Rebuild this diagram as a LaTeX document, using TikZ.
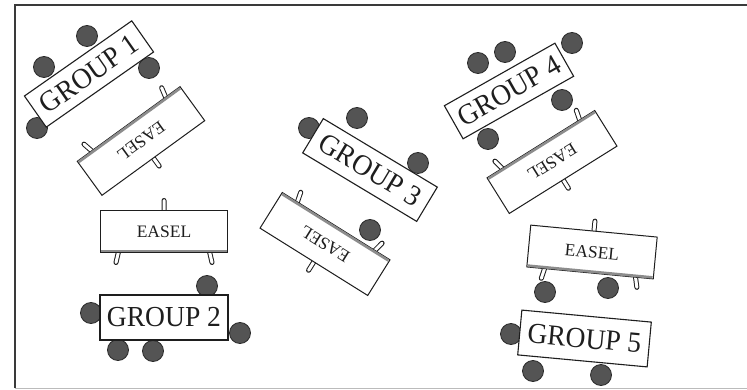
\documentclass[tikz,border=0pt]{standalone}
\usepackage{graphicx}
\usepackage{fontspec}
\setmainfont{Liberation Serif}
\definecolor{ink}{HTML}{1E1E1E}
\definecolor{chairfill}{HTML}{545454}
\definecolor{chairline}{HTML}{2A2A2A}
\definecolor{edgegray}{HTML}{8C8C8C}
\definecolor{framedark}{HTML}{3A3A3A}
\definecolor{framelight}{HTML}{BBBBBB}
\newcommand\grpfont{\fontsize{29}{29}\selectfont}
\newcommand\easelfont{\fontsize{17.5}{17.5}\selectfont}
\newcommand\grp[1]{\scalebox{0.95}[1]{#1}}
% one easel: name, centre, rotation (gray front edge is the local bottom)
\newcommand\easelat[3]{%
  \begin{scope}[shift={#2}, rotate=#3]
    \draw[legout] (0,-18) -- (0,-31) (-45,18) -- (-48,31) (45,18) -- (48,31);
    \draw[legin]  (0,-18) -- (0,-31) (-45,18) -- (-48,31) (45,18) -- (48,31);
    \node[easelboard] (#1) at (0,0) {EASEL};
    \draw[ledge] (-62.6,19.6) -- (62.6,19.6);
  \end{scope}}
\begin{document}
\begin{tikzpicture}[x=1pt,y=-1pt,
  chair/.style={circle, fill=chairfill, draw=chairline, line width=0.8pt,
    minimum size=21pt, inner sep=0pt},
  tbl/.style={draw=ink, fill=white, line width=1.1pt, inner sep=0pt,
    font=\grpfont, text=ink},
  easelboard/.style={draw=ink, fill=white, line width=1pt, minimum width=127pt,
    minimum height=42pt, inner sep=0pt, font=\easelfont, text=ink, transform shape},
  legout/.style={line width=5pt, line cap=round, draw=ink},
  legin/.style={line width=3pt, line cap=round, draw=white},
  ledge/.style={draw=edgegray, line width=2.6pt},
]
\useasboundingbox[fill=white] (0,0) rectangle (747,390);

% room outline
\draw[framedark, line width=1.6pt] (15,388) -- (15,5) -- (747,5);
\draw[framelight, line width=1pt] (15,388) -- (747,388);

% easels
\easelat{e1}{(141,141)}{216}
\easelat{e2}{(164,231.5)}{0}
\easelat{e3}{(325,244)}{148}
\easelat{e4}{(552,162)}{212}
\easelat{e5}{(592,252)}{-5.4}

% chairs
\node[chair] (c1a) at (44,67) {};
\node[chair] (c1b) at (87,36) {};
\node[chair] (c1c) at (149,68) {};
\node[chair] (c1d) at (37,128) {};

\node[chair] (c2a) at (207,286) {};
\node[chair] (c2b) at (91,313) {};
\node[chair] (c2c) at (240,333) {};
\node[chair] (c2d) at (118,350) {};
\node[chair] (c2e) at (153,351) {};

\node[chair] (c3a) at (309,128) {};
\node[chair] (c3b) at (357,118) {};
\node[chair] (c3c) at (418,163) {};
\node[chair] (c3d) at (370,230) {};

\node[chair] (c4a) at (478,63) {};
\node[chair] (c4b) at (505,52) {};
\node[chair] (c4c) at (572,43) {};
\node[chair] (c4d) at (562,100) {};
\node[chair] (c4e) at (488,139) {};

\node[chair] (c5a) at (545,292) {};
\node[chair] (c5b) at (608,288) {};
\node[chair] (c5c) at (511,334) {};
\node[chair] (c5d) at (533,371) {};
\node[chair] (c5e) at (601,375) {};

% group tables
\node[tbl, minimum width=131pt, minimum height=38pt, rotate=35] (g1) at (89,74) {\grp{GROUP 1}};
\node[tbl, minimum width=128pt, minimum height=45pt] (g2) at (164,317.5) {\grp{GROUP 2}};
\node[tbl, minimum width=133pt, minimum height=40pt, rotate=-31] (g3) at (370,170) {\grp{GROUP 3}};
\node[tbl, minimum width=127pt, minimum height=38pt, rotate=29.5] (g4) at (509,91) {\grp{GROUP 4}};
\node[tbl, minimum width=130pt, minimum height=45pt, rotate=-5.3] (g5) at (584.5,338.5) {\grp{GROUP 5}};
\end{tikzpicture}
\end{document}
